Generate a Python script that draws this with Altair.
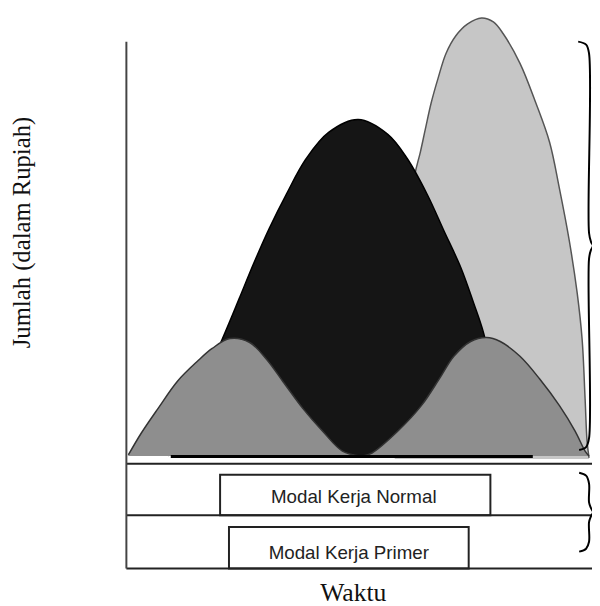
import altair as alt
import pandas as pd

# ---- data (x: Waktu units, y: Jumlah units) ----
light_x = [27.2, 27.8, 28.5, 29.2, 29.8, 30.3, 30.9, 31.6, 32.4, 33.4, 34.6, 36.0, 37.2, 38.2, 39.9, 41.5, 42.9, 43.9, 44.9, 45.7, 46.2, 46.5, 46.7, 46.9]
light_y = [11.4, 20.0, 32.0, 39.7, 42.2, 44.5, 47.2, 49.7, 52.2, 54.0, 55.2, 55.8, 55.4, 54.2, 51.2, 47.2, 43.2, 38.5, 33.2, 27.9, 23.2, 17.2, 12.9, 11.2]

black_x = [4.2, 7.0, 9.7, 11.5, 12.9, 14.5, 16.2, 18.2, 20.5, 23.5, 26.5, 28.5, 30.5, 32.2, 33.9, 35.2, 36.2, 37.5, 39.0]
black_y = [11.4, 17.2, 23.2, 27.5, 30.9, 34.5, 37.9, 41.5, 44.2, 45.5, 44.0, 41.5, 37.9, 34.2, 30.5, 26.9, 23.9, 18.2, 11.4]

grey1_x = [0.2, 1.5, 3.2, 5.2, 7.2, 8.7, 10.5, 12.5, 14.2, 15.9, 17.9, 19.9, 21.9, 23.7]
grey1_y = [11.5, 13.7, 16.2, 19.0, 21.0, 22.3, 23.3, 22.9, 21.2, 18.9, 16.2, 13.9, 11.9, 11.4]

grey2_x = [24.0, 24.9, 27.5, 29.9, 31.9, 33.2, 34.9, 36.5, 37.9, 39.9, 41.9, 43.9, 45.5, 46.5, 46.9]
grey2_y = [11.4, 11.7, 13.9, 16.5, 19.5, 21.5, 23.0, 23.4, 23.0, 21.5, 19.2, 16.5, 13.9, 11.9, 11.4]

light_base = 11.1
hump_base = 11.4

band_lines = [10.6, 5.4, 0.0]
axis_top = 53.4

box_names = ["Modal Kerja Normal", "Modal Kerja Primer"]
box_x1 = [9.5, 10.4]
box_x2 = [36.9, 34.7]
box_y1 = [5.4, 0.0]
box_y2 = [9.5, 4.2]
label_x = [23.05, 22.55]
label_y = [6.6, 1.0]

title_text = ["Jumlah (dalam Rupiah)", "Waktu"]
title_x = [-9.8, 23.0]
title_y = [34.05, -3.3]
title_angle = [270, 0]
title_size = [25, 26]

under_x1, under_x2, under_y = 4.5, 41.2, 11.35

brace1_x = [45.8, 46.6, 46.9, 46.9, 47.1, 47.3, 47.1, 46.9, 46.9, 46.6, 45.9]
brace1_y = [53.4, 53.1, 52.2, 34.0, 33.1, 32.7, 32.3, 31.4, 13.2, 12.3, 12.0]
brace2_x = [45.9, 46.6, 46.9, 46.9, 47.1, 47.3, 47.1, 46.9, 46.9, 46.6, 45.9]
brace2_y = [9.7, 9.4, 8.6, 6.7, 6.1, 5.7, 5.3, 4.7, 2.7, 2.0, 1.7]

XMAX, YMAX = 47.2, 56.4

xs = alt.Scale(domain=[0, XMAX], nice=False, zero=False)
ys = alt.Scale(domain=[0, YMAX], nice=False, zero=False)


def X(f):
    return alt.X(f, scale=xs, axis=None)


def Y(f):
    return alt.Y(f, scale=ys, axis=None)


def hump(xv, yv, base):
    return pd.DataFrame({"t": xv, "v": yv, "b": [base] * len(xv)})


def area_layer(df, fill, stroke):
    a = alt.Chart(df).mark_area(interpolate="catmull-rom", fill=fill, clip=True).encode(
        x=X("t:Q"), y=Y("v:Q"), y2="b:Q")
    l = alt.Chart(df).mark_line(interpolate="catmull-rom", color=stroke, strokeWidth=1.5, clip=True).encode(
        x=X("t:Q"), y=Y("v:Q"))
    return a + l


light = area_layer(hump(light_x, light_y, light_base), "#c6c6c6", "#555555")
black = area_layer(hump(black_x, black_y, hump_base), "#151515", "#000000")
grey1 = area_layer(hump(grey1_x, grey1_y, hump_base), "#8e8e8e", "#333333")
grey2 = area_layer(hump(grey2_x, grey2_y, hump_base), "#8e8e8e", "#333333")

under = alt.Chart(pd.DataFrame({"a": [under_x1], "b": [under_x2], "v": [under_y]})).mark_rule(
    color="#000", strokeWidth=3).encode(x=X("a:Q"), x2="b:Q", y=Y("v:Q"))

boxes = alt.Chart(pd.DataFrame({"n": box_names, "x1": box_x1, "x2": box_x2, "y1": box_y1, "y2": box_y2})).mark_rect(
    fill="white", stroke="#222", strokeWidth=2).encode(
    x=X("x1:Q"), x2="x2:Q", y=Y("y1:Q"), y2="y2:Q")

hlines = alt.Chart(pd.DataFrame({"v": band_lines})).mark_rule(color="#222", strokeWidth=2).encode(
    y=Y("v:Q"))

yaxis_line = alt.Chart(pd.DataFrame({"t": [0.0], "a": [0.0], "b": [axis_top]})).mark_rule(
    color="#444", strokeWidth=2).encode(x=X("t:Q"), y=Y("a:Q"), y2="b:Q")

labels = alt.Chart(pd.DataFrame({"n": box_names, "t": label_x, "v": label_y})).mark_text(
    font="Liberation Sans", fontSize=19, color="#222", align="center", baseline="alphabetic").encode(
    x=X("t:Q"), y=Y("v:Q"), text="n:N")

titles = alt.Chart(pd.DataFrame({"n": title_text, "t": title_x, "v": title_y,
                                 "a": title_angle, "s": title_size})).mark_text(
    font="Liberation Serif", color="#111", align="center", baseline="alphabetic").encode(
    x=X("t:Q"), y=Y("v:Q"), text="n:N",
    angle=alt.Angle("a:Q", scale=None),
    size=alt.Size("s:Q", scale=None, legend=None))


def brace(xv, yv):
    df = pd.DataFrame({"t": xv, "v": yv, "i": list(range(len(xv)))})
    return alt.Chart(df).mark_line(color="#000", strokeWidth=2, interpolate="catmull-rom", clip=True).encode(
        x=X("t:Q"), y=Y("v:Q"), order="i:Q")


chart = alt.layer(
    light, black, grey1, grey2, under, boxes, hlines, yaxis_line, labels, titles,
    brace(brace1_x, brace1_y), brace(brace2_x, brace2_y),
).properties(
    width=472, height=564,
    padding={"left": 120, "top": 0, "right": 0, "bottom": 34},
    autosize=alt.AutoSizeParams(type="none"),
    background="white",
).configure_view(stroke=None)

chart.save("out.html", embed_options={"renderer": "svg", "actions": False})
